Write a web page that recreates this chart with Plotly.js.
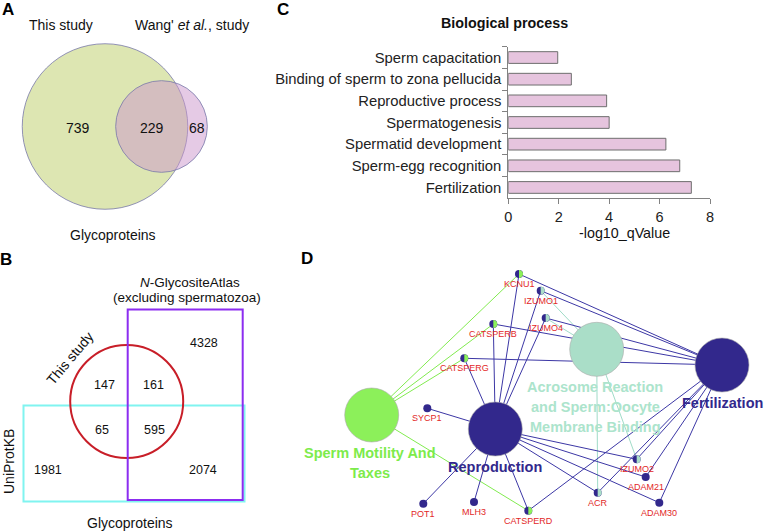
<!DOCTYPE html>
<html><head><meta charset="utf-8">
<script src="https://cdn.plot.ly/plotly-3.0.1.min.js"></script>
<style>html,body{margin:0;padding:0;background:#fff}</style>
</head><body><div id="chart" style="width:765px;height:532px"></div>
<script>
// ---------- DATA ----------
// Panel A: Venn of glycoproteins (this study only, shared, Wang only)
const vennASets = ['This study', "Wang' <i>et al.</i>, study"];
const vennACounts = [739, 229, 68];
// Panel B: three-set comparison
const vennBSets = ['This study', '<i>N</i>-GlycositeAtlas', 'UniProtKB'];
const vennBRegions = ['thisOnly', 'thisAtlas', 'thisUni', 'all', 'uniOnly', 'atlasUni', 'atlasOnly'];
const vennBCounts = [147, 161, 65, 595, 1981, 2074, 4328];
// Panel C: GO biological process
const bpTerms = ['Sperm capacitation', 'Binding of sperm to zona pellucida', 'Reproductive process',
  'Spermatogenesis', 'Spermatid development', 'Sperm-egg recognition', 'Fertilization'];
const bpValues = [1.96, 2.5, 3.9, 4.0, 6.25, 6.8, 7.26];
const bpTicks = [0, 2, 4, 6, 8];
// Panel D: network
const termNames = ['Motility', 'Reproduction', 'Acrosome', 'Fertilization'];
const geneNames = ['KCNU1', 'IZUMO1', 'IZUMO4', 'CATSPERB', 'CATSPERG', 'SYCP1', 'POT1', 'MLH3',
  'CATSPERD', 'ACR', 'ADAM30', 'ADAM21', 'IZUMO2'];
const motilityGenes = ['KCNU1', 'CATSPERB', 'CATSPERG', 'CATSPERD'];
const acrosomeGenes = ['IZUMO1', 'IZUMO4', 'IZUMO2', 'ACR'];
const reproductionGenes = ['KCNU1', 'IZUMO1', 'IZUMO4', 'CATSPERB', 'CATSPERG', 'SYCP1', 'POT1', 'MLH3',
  'CATSPERD', 'ACR', 'ADAM30', 'ADAM21', 'IZUMO2'];
const fertilizationGenes = ['KCNU1', 'IZUMO1', 'IZUMO4', 'CATSPERB', 'CATSPERG', 'CATSPERD', 'ACR',
  'ADAM30', 'ADAM21', 'IZUMO2'];

// ---------- LAYOUT / STYLE ----------
const FONT = 'Liberation Sans, Arial, sans-serif';
const NAVY = 'rgb(50,40,140)', GREEN = 'rgb(140,240,90)', TEAL = 'rgb(170,222,200)';
const GREENTXT = 'rgb(125,235,75)', TEALTXT = 'rgb(172,228,204)';
const RED = 'rgb(226,40,40)';
const shapes = [], ann = [], traces = [];
function txt(x, y, text, size, color, extra) {
  ann.push(Object.assign({x: x, y: y, xref: 'x2', yref: 'y2', text: text, showarrow: false,
    font: {family: FONT, size: size, color: color || '#111'}, xanchor: 'center', yanchor: 'middle'}, extra || {}));
}
function circle(cx, cy, r, fill, line, lw, layer) {
  shapes.push({type: 'circle', xref: 'x2', yref: 'y2', x0: cx - r, x1: cx + r, y0: cy - r, y1: cy + r,
    fillcolor: fill, line: {color: line, width: lw}, layer: layer || 'below'});
}
function rect(x0, y0, x1, y1, color, lw) {
  shapes.push({type: 'rect', xref: 'x2', yref: 'y2', x0: x0, x1: x1, y0: y0, y1: y1,
    fillcolor: 'rgba(0,0,0,0)', line: {color: color, width: lw}, layer: 'below'});
}

// Panel labels
txt(7.5, 9.5, '<b>A</b>', 17, '#000');
txt(6, 259, '<b>B</b>', 17, '#000');
txt(282.5, 9.5, '<b>C</b>', 17, '#000');
txt(306.5, 258.5, '<b>D</b>', 17, '#000');

// ---------- Panel A ----------
const vennAPos = {bigX: 105, bigY: 126.5, smallX: 161.5, smallY: 126.5, k: 2.66};
const rBig = vennAPos.k * Math.sqrt(vennACounts[0] + vennACounts[1]);
const rSmall = vennAPos.k * Math.sqrt(vennACounts[1] + vennACounts[2]);
circle(vennAPos.bigX, vennAPos.bigY, rBig, 'rgb(221,230,178)', 'rgb(120,120,170)', 0.8);
circle(vennAPos.smallX, vennAPos.smallY, rSmall, 'rgba(203,149,203,0.5)', 'rgb(120,120,170)', 0.8);
txt(61, 25, vennASets[0], 14);
txt(192, 25, vennASets[1], 14);
const vennALabelX = [78, 152, 197];
vennACounts.forEach((c, i) => txt(vennALabelX[i], 127.5, String(c), 14));
txt(113, 235, 'Glycoproteins', 14);

// ---------- Panel B ----------
rect(23.5, 405.5, 244.5, 501.5, 'rgb(128,244,240)', 2);
circle(126.7, 401.5, 56.5, 'rgba(0,0,0,0)', 'rgb(200,30,40)', 2);
rect(127.7, 309.5, 242.7, 500, 'rgb(140,45,240)', 2);
txt(190, 282, vennBSets[1], 13.5);
txt(186.5, 297.5, '(excluding spermatozoa)', 13.5);
txt(70, 358, vennBSets[0], 14, '#111', {textangle: -50});
txt(9, 462, vennBSets[2], 14, '#111', {textangle: -90});
const vennBPos = {thisOnly: [104, 384.5], thisAtlas: [153.5, 384.5], thisUni: [102, 429.5], all: [154, 429.5],
  uniOnly: [48, 469.5], atlasUni: [203, 469.5], atlasOnly: [204, 342.5]};
vennBRegions.forEach((k, i) => txt(vennBPos[k][0], vennBPos[k][1], String(vennBCounts[i]), 12.5));
txt(130, 523, 'Glycoproteins', 14);

// ---------- Panel C ----------
traces.push({type: 'bar', orientation: 'h', x: bpValues, y: bpTerms, xaxis: 'x', yaxis: 'y',
  marker: {color: 'rgb(230,196,222)', line: {color: 'rgb(110,110,110)', width: 1}}, hoverinfo: 'skip'});
txt(504, 22.5, '<b>Biological process</b>', 14.3, '#111');
txt(624, 233, '-log10_qValue', 14.3);

// ---------- Panel D ----------
const termPos = {Motility: [371.7, 415], Reproduction: [495.3, 429], Acrosome: [596.7, 349.3], Fertilization: [722, 365]};
const termColor = {Motility: GREEN, Reproduction: NAVY, Acrosome: TEAL, Fertilization: NAVY};
const genePos = {KCNU1: [519, 274], IZUMO1: [540.7, 290.7], IZUMO4: [545.7, 318], CATSPERB: [493.3, 324],
  CATSPERG: [464.3, 358.3], SYCP1: [427.3, 408.3], POT1: [423.3, 503.7], MLH3: [474, 502],
  CATSPERD: [528.3, 510.7], ACR: [597.7, 492.7], ADAM30: [659.3, 502.7], ADAM21: [645.7, 477], IZUMO2: [636.7, 459.3]};

function edgeTrace(term, genes, color) {
  const xs = [], ys = [];
  genes.forEach(g => { xs.push(termPos[term][0], genePos[g][0], null); ys.push(termPos[term][1], genePos[g][1], null); });
  traces.push({type: 'scatter', mode: 'lines', x: xs, y: ys, xaxis: 'x2', yaxis: 'y2',
    line: {color: color, width: 1}, hoverinfo: 'skip'});
}
edgeTrace('Motility', motilityGenes, 'rgb(130,235,80)');
edgeTrace('Acrosome', acrosomeGenes, 'rgb(160,220,200)');
edgeTrace('Reproduction', reproductionGenes, 'rgb(60,55,165)');
edgeTrace('Fertilization', fertilizationGenes, 'rgb(60,55,165)');

// term nodes (marker diameter 54 px)
traces.push({type: 'scatter', mode: 'markers', xaxis: 'x2', yaxis: 'y2', hoverinfo: 'skip',
  x: termNames.map(t => termPos[t][0]), y: termNames.map(t => termPos[t][1]),
  marker: {size: 54, color: termNames.map(t => termColor[t]), line: {color: 'rgb(170,170,170)', width: 0.6}}});
// gene nodes
traces.push({type: 'scatter', mode: 'markers', xaxis: 'x2', yaxis: 'y2', hoverinfo: 'skip',
  x: geneNames.map(g => genePos[g][0]), y: geneNames.map(g => genePos[g][1]),
  marker: {size: 8, color: NAVY}});
// right halves for genes shared with motility / acrosome terms
function halfRight(g, color) {
  const [cx, cy] = genePos[g], r = 4;
  let p = '';
  for (let i = 0; i <= 16; i++) {
    const a = -Math.PI / 2 + Math.PI * i / 16;
    p += (i === 0 ? 'M ' : ' L ') + (cx + r * Math.cos(a)).toFixed(2) + ',' + (cy + r * Math.sin(a)).toFixed(2);
  }
  shapes.push({type: 'path', xref: 'x2', yref: 'y2', path: p + ' Z', fillcolor: color, line: {width: 0}, layer: 'above'});
}
motilityGenes.forEach(g => halfRight(g, GREEN));
acrosomeGenes.forEach(g => halfRight(g, TEAL));
// gene labels
geneNames.forEach(g => txt(genePos[g][0], genePos[g][1] + 10, g, 9, RED));

// term labels
txt(369.5, 452.7, '<b>Sperm Motility And</b>', 14.5, GREENTXT);
txt(369.5, 472.7, '<b>Taxes</b>', 14.5, GREENTXT);
txt(495, 466.7, '<b>Reproduction</b>', 14.5, NAVY);
txt(595, 387.3, '<b>Acrosome Reaction</b>', 14.5, TEALTXT);
txt(595, 407.3, '<b>and Sperm:Oocyte</b>', 14.5, TEALTXT);
txt(595, 427.3, '<b>Membrane Binding</b>', 14.5, TEALTXT);
txt(722, 402.7, '<b>Fertilization</b>', 14.5, NAVY);

// ---------- FIGURE ----------
const W = 765, H = 532;
const layout = {
  width: W, height: H, margin: {l: 0, r: 0, t: 0, b: 0},
  paper_bgcolor: '#fff', plot_bgcolor: 'rgba(0,0,0,0)', showlegend: false,
  font: {family: FONT, color: '#111'},
  xaxis: {domain: [508.3 / W, 710 / W], range: [0, 8], anchor: 'y', showline: true, linecolor: 'rgb(130,130,130)',
    linewidth: 1, ticks: 'outside', ticklen: 5, tickcolor: 'rgb(130,130,130)', tickvals: bpTicks,
    tickfont: {size: 14.5, color: '#222'}, showgrid: false, zeroline: false, fixedrange: true},
  yaxis: {domain: [1 - 198.3 / H, 1 - 46.7 / H], type: 'category', autorange: 'reversed', anchor: 'x',
    showline: true, linecolor: 'rgb(130,130,130)', linewidth: 1, ticks: 'outside', tickson: 'boundaries',
    ticklen: 5, tickcolor: 'rgb(130,130,130)', tickfont: {size: 14.8, color: '#222'}, showgrid: false,
    ticklabelstandoff: 3, zeroline: false, fixedrange: true},
  bargap: 0.46,
  xaxis2: {domain: [0, 1], range: [0, W], visible: false, anchor: 'y2', fixedrange: true},
  yaxis2: {domain: [0, 1], range: [H, 0], visible: false, anchor: 'x2', fixedrange: true},
  shapes: shapes, annotations: ann
};
Plotly.newPlot('chart', traces, layout, {staticPlot: true, displayModeBar: false});
</script></body></html>
